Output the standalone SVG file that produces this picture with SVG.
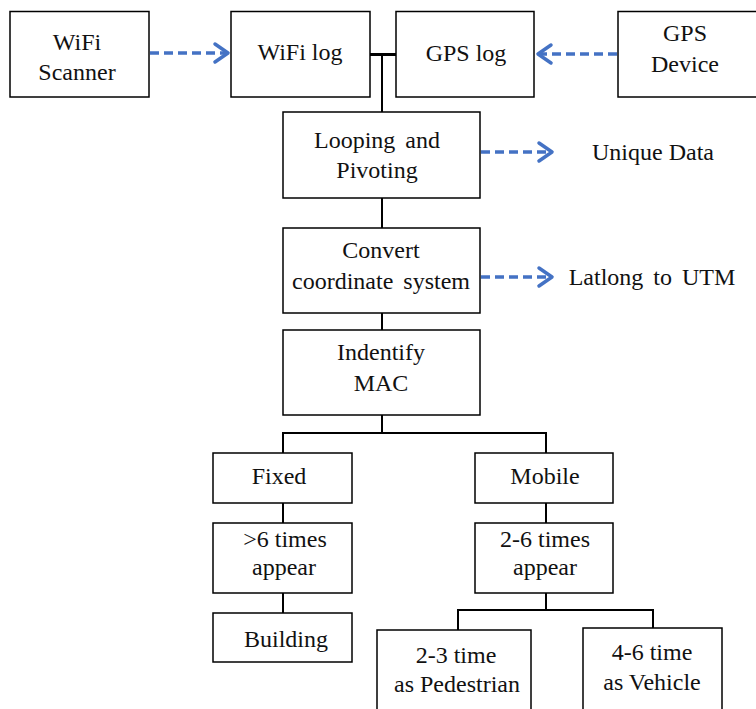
<svg xmlns="http://www.w3.org/2000/svg" width="756" height="709" viewBox="0 0 756 709">
<style>
.box{fill:#fff;stroke:#000;stroke-width:1.5}
text{font-size:24px;fill:#111;text-anchor:middle}
.ln{fill:none;stroke:#000;stroke-width:2}
.dash{fill:none;stroke:#4472C4;stroke-width:3.5;stroke-dasharray:9 5}
.head{fill:none;stroke:#4472C4;stroke-width:3.5;stroke-linecap:round;stroke-linejoin:round}
</style>
<rect width="756" height="709" fill="#fff"/>
<g id="connectors">
<line class="ln" x1="370" y1="54.5" x2="396" y2="54.5" style="stroke-width:3"/>
<line class="ln" x1="382" y1="54" x2="382" y2="112"/>
<line class="ln" x1="382" y1="198" x2="382" y2="228"/>
<line class="ln" x1="382" y1="313" x2="382" y2="330"/>
<polyline class="ln" points="382,415 382,433"/>
<polyline class="ln" points="283,453 283,433 546,433 546,453"/>
<line class="ln" x1="283" y1="503" x2="283" y2="523"/>
<line class="ln" x1="283" y1="593" x2="283" y2="613"/>
<line class="ln" x1="546" y1="503" x2="546" y2="523"/>
<polyline class="ln" points="546,593 546,610"/>
<polyline class="ln" points="458,630 458,610 653,610 653,628"/>
<line class="dash" x1="150" y1="53" x2="226" y2="53"/>
<polyline class="head" points="215,44 228,53 215,62"/>
<line class="dash" x1="617" y1="54" x2="541" y2="54"/>
<polyline class="head" points="551,45 538,54 551,63"/>
<line class="dash" x1="481" y1="152" x2="549" y2="152"/>
<polyline class="head" points="539,143 552,152 539,161"/>
<line class="dash" x1="481" y1="277" x2="549" y2="277"/>
<polyline class="head" points="539,268 552,277 539,286"/>
</g>
<g font-family="Liberation Serif, Tinos, Times New Roman, serif">
<g id="wifi-scanner"><rect class="box" x="10" y="11.5" width="139" height="85.5"/><text x="77" y="50">WiFi</text><text x="77" y="80">Scanner</text></g>
<g id="wifi-log"><rect class="box" x="231" y="11.5" width="139" height="85.5"/><text x="300" y="60">WiFi log</text></g>
<g id="gps-log"><rect class="box" x="396" y="11.5" width="138" height="85.5"/><text x="466" y="61">GPS log</text></g>
<g id="gps-device"><rect class="box" x="618" y="11.5" width="145" height="85.5"/><text x="685" y="41">GPS</text><text x="685" y="72">Device</text></g>
<g id="looping"><rect class="box" x="283" y="112" width="197" height="86"/><text x="377" y="148" word-spacing="4">Looping and</text><text x="377" y="178">Pivoting</text></g>
<g id="unique-data"><text x="653" y="160">Unique Data</text></g>
<g id="convert"><rect class="box" x="283" y="228" width="197" height="85"/><text x="381" y="258">Convert</text><text x="381" y="289" word-spacing="4">coordinate system</text></g>
<g id="latlong"><text x="652" y="285" word-spacing="4">Latlong to UTM</text></g>
<g id="identify"><rect class="box" x="283" y="330" width="197" height="85"/><text x="381" y="360">Indentify</text><text x="381" y="391">MAC</text></g>
<g id="fixed"><rect class="box" x="213" y="453" width="139" height="50"/><text x="279" y="484">Fixed</text></g>
<g id="gt6"><rect class="box" x="213" y="523" width="139" height="70"/><text x="285" y="547">&gt;6 times</text><text x="284" y="575">appear</text></g>
<g id="building"><rect class="box" x="213" y="613" width="139" height="49"/><text x="286" y="647">Building</text></g>
<g id="mobile"><rect class="box" x="475" y="453" width="138" height="50"/><text x="545" y="484">Mobile</text></g>
<g id="t26"><rect class="box" x="475" y="523" width="138" height="70"/><text x="545" y="547">2-6 times</text><text x="545" y="575">appear</text></g>
<g id="pedestrian"><rect class="box" x="377" y="630" width="154" height="90"/><text x="456" y="663">2-3 time</text><text x="457" y="692">as Pedestrian</text></g>
<g id="vehicle"><rect class="box" x="583" y="628" width="139" height="92"/><text x="652" y="660">4-6 time</text><text x="652" y="690">as Vehicle</text></g>
</g>
</svg>
